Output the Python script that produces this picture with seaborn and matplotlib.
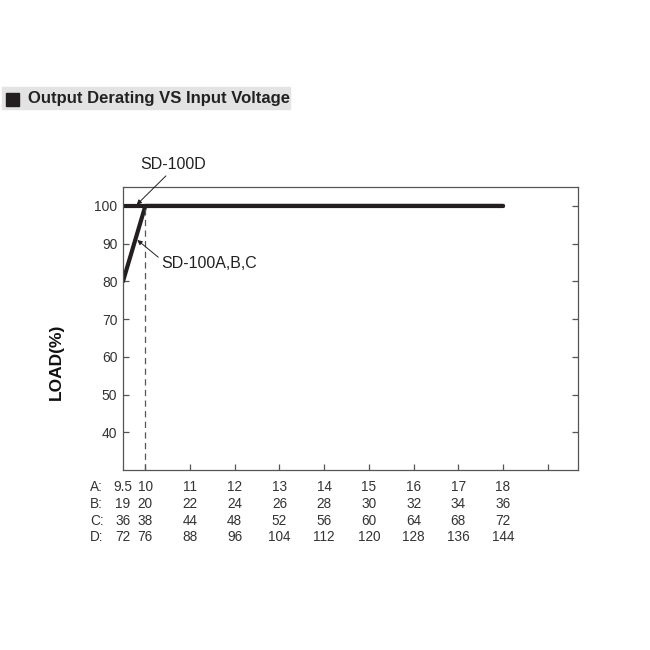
import numpy as np
import pandas as pd
import matplotlib
matplotlib.use("Agg")
import matplotlib.pyplot as plt
import matplotlib.patches as mpatches
from matplotlib import font_manager
import seaborn as sns

LINE = "#231f20"
SPINE = "#555555"
BOX = "#e3e3e3"

# data
abc_x = [9.5, 10, 18]
abc_y = [80, 100, 100]
d_x = [9.5, 18]
d_y = [100, 100]
cutoff_x = 10

col_x = [9.5, 10, 11, 12, 13, 14, 15, 16, 17, 18]
row_names = ["A:", "B:", "C:", "D:"]
row_a = ["9.5", "10", "11", "12", "13", "14", "15", "16", "17", "18"]
row_b = ["19", "20", "22", "24", "26", "28", "30", "32", "34", "36"]
row_c = ["36", "38", "44", "48", "52", "56", "60", "64", "68", "72"]
row_d = ["72", "76", "88", "96", "104", "112", "120", "128", "136", "144"]
y_ticks = [40, 50, 60, 70, 80, 90, 100]
x_ticks = [10, 11, 12, 13, 14, 15, 16, 17, 18, 19]

sns.set_theme(style="white")
names = {f.name for f in font_manager.fontManager.ttflist}
fam = [f for f in ["Liberation Sans Narrow", "Liberation Sans", "DejaVu Sans"] if f in names]
plt.rcParams["font.family"] = fam

df = pd.DataFrame({
    "vin": abc_x + d_x,
    "load": abc_y + d_y,
    "model": ["SD-100A,B,C"] * len(abc_x) + ["SD-100D"] * len(d_x),
})

fig = plt.figure(figsize=(6.5, 6.5), dpi=100)
ax = fig.add_axes([0.1892, 0.2769, 0.6996, 0.4359])

sns.lineplot(data=df, x="vin", y="load", hue="model", estimator=None,
             palette={"SD-100A,B,C": LINE, "SD-100D": LINE},
             linewidth=3, legend=False, ax=ax)
ax.plot([cutoff_x, cutoff_x], [30, 100], color=SPINE, lw=0.9, ls=(0, (5, 3.5)))

ax.set_xlim(9.5, 19.67)
ax.set_ylim(30, 105.1)
ax.set_yticks(y_ticks)
ax.set_yticklabels([str(v) for v in y_ticks], fontsize=10, color="#333333")
ax.set_xticks(x_ticks)
ax.set_xticklabels([])
ax.set_xlabel("")
ax.tick_params(direction="in", length=4.5, width=0.9, color=SPINE,
               left=True, right=True, bottom=True, top=False, pad=4)
for s in ax.spines.values():
    s.set_color(SPINE)
    s.set_linewidth(0.9)

ax.set_ylabel("LOAD(%)", fontsize=12.5, fontweight="bold", color="#111111")
ax.yaxis.set_label_coords(-0.147, 0.381)
ax.yaxis.label.set_verticalalignment("center")

# voltage table under the axis
rows = [row_a, row_b, row_c, row_d]
row_y = [-0.060, -0.1182, -0.1782, -0.2347]
trans = ax.get_xaxis_transform()
for name, vals, yy in zip(row_names, rows, row_y):
    ax.text(-0.0726, yy, name, transform=ax.transAxes, ha="left", va="center",
            fontsize=9.8, color="#333333")
    for xv, lab in zip(col_x, vals):
        ax.text(xv, yy, lab, transform=trans, ha="center", va="center",
                fontsize=9.8, color="#333333")

# annotations
arrow = dict(arrowstyle="-|>", color=LINE, lw=0.7, mutation_scale=7,
             shrinkA=0, shrinkB=0)
ax.text(10.62, 110.9, "SD-100D", ha="center", va="center", fontsize=11.5,
        color="#222222", clip_on=False)
ax.annotate("", xy=(9.806, 100.3), xytext=(10.46, 107.96),
            arrowprops=arrow, annotation_clip=False)
ax.text(10.36, 84.8, "SD-100A,B,C", ha="left", va="center", fontsize=11.5,
        color="#222222")
ax.annotate("", xy=(9.82, 90.97), xytext=(10.29, 86.4), arrowprops=arrow)

# title strip
fig.patches.append(mpatches.Rectangle((2 / 650, 1 - 109 / 650), 288 / 650, 22 / 650,
                                      transform=fig.transFigure, color=BOX, zorder=0))
fig.patches.append(mpatches.Rectangle((6 / 650, 1 - 106 / 650), 13 / 650, 13 / 650,
                                      transform=fig.transFigure, color="#231f20", zorder=1))
fig.text(28 / 650, 1 - 98.5 / 650, "Output Derating VS Input Voltage",
         ha="left", va="center", fontsize=12, fontweight="bold", color="#222222")

fig.savefig("out.png", dpi=100, facecolor="white")
